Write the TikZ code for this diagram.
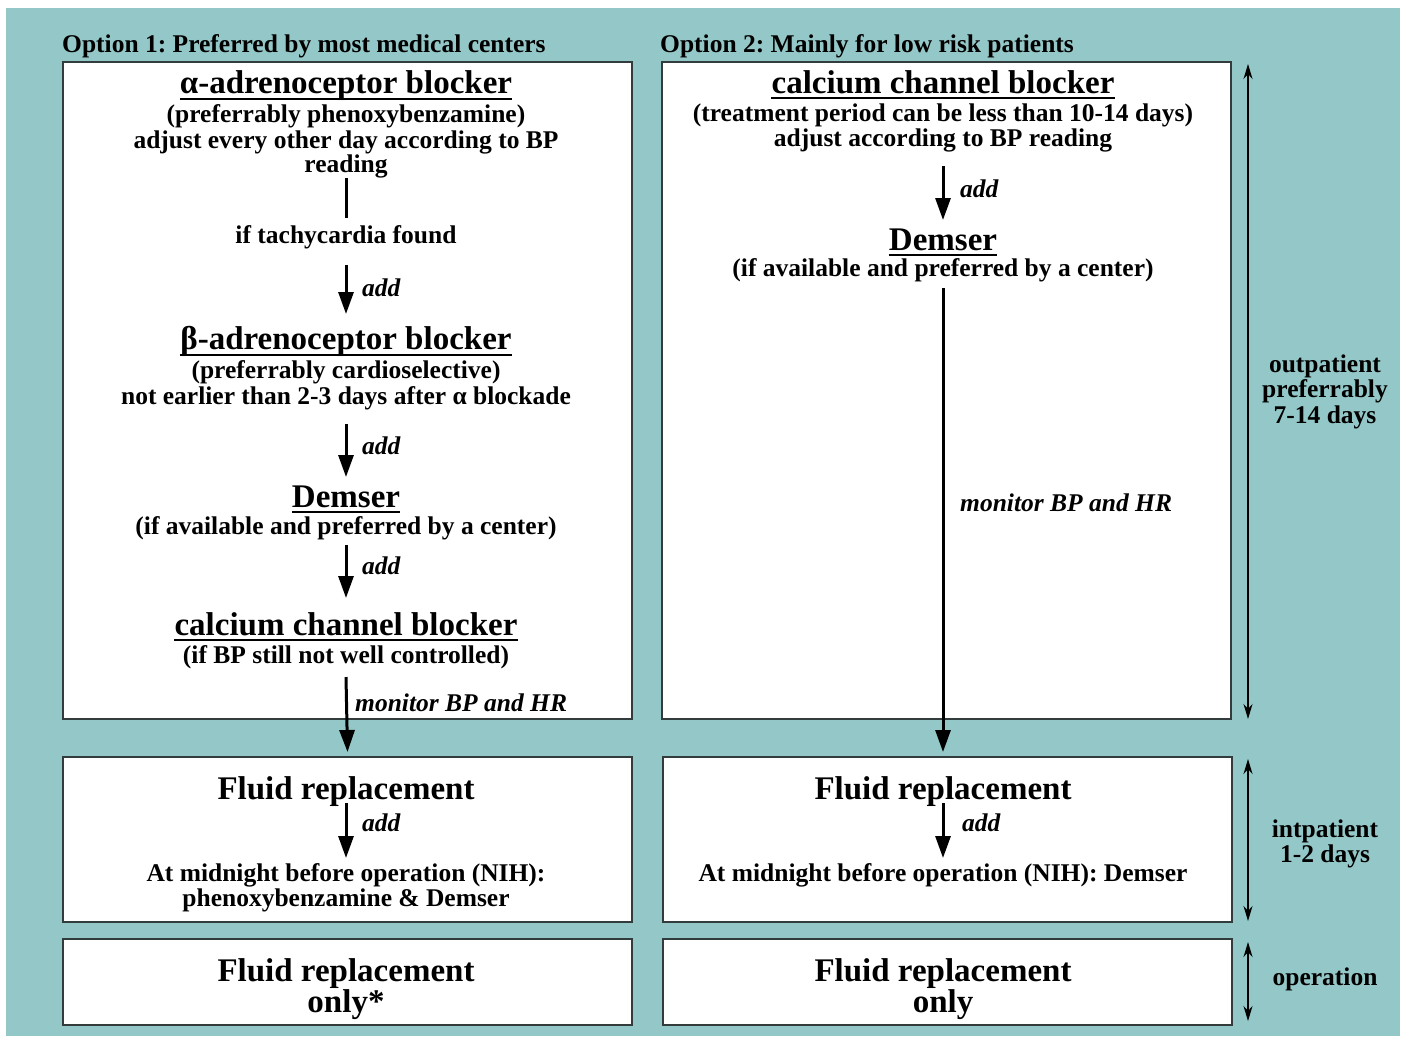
\documentclass[tikz,border=0pt]{standalone}
\usepackage{fontspec}
\setmainfont{Liberation Serif}
\usetikzlibrary{arrows.meta}
\definecolor{tealbg}{RGB}{148,199,199}
\definecolor{boxline}{RGB}{50,60,60}
\frenchspacing
\begin{document}
\begin{tikzpicture}[x=1pt,y=-1pt,
  txt/.style={inner sep=0pt, anchor=base, font=\fontsize{25.5}{28}\selectfont\bfseries\frenchspacing},
  ttl/.style={inner sep=0pt, anchor=base, font=\fontsize{33}{36}\selectfont\bfseries\frenchspacing},
  ttl2/.style={inner sep=0pt, anchor=base, align=center, font=\fontsize{33}{29}\selectfont\bfseries\frenchspacing},
  lbl/.style={inner sep=0pt, anchor=base west, font=\fontsize{25.5}{28}\selectfont\bfseries\itshape\frenchspacing},
  hdr/.style={inner sep=0pt, anchor=base west, font=\fontsize{25.5}{28}\selectfont\bfseries\frenchspacing},
  boxs/.style={draw=boxline, line width=2pt, fill=white, anchor=north west, inner sep=0pt},
  flow/.style={line width=3pt, -{Triangle[width=15pt,length=22pt]}},
  plain/.style={line width=3pt},
  span/.style={line width=1.4pt, {Stealth[width=9pt,length=15pt]}-{Stealth[width=9pt,length=15pt]}},
  uline/.style={line width=1.8pt}]
\useasboundingbox (0,0) rectangle (1407,1036);
\fill[tealbg] (6,8) rectangle (1400,1036);

% headers
\node[hdr] (h1) at (62,52) {Option 1: Preferred by most medical centers};
\node[hdr] (h2) at (660,52) {Option 2: Mainly for low risk patients};

% boxes
\node[boxs, minimum width=569, minimum height=657] (bl1) at (62,61) {};
\node[boxs, minimum width=569, minimum height=657] (br1) at (661,61) {};
\node[boxs, minimum width=569, minimum height=165] (bl2) at (62,756) {};
\node[boxs, minimum width=569, minimum height=165] (br2) at (662,756) {};
\node[boxs, minimum width=569, minimum height=86] (bl3) at (62,938) {};
\node[boxs, minimum width=569, minimum height=86] (br3) at (662,938) {};

% ---------- left column ----------
\node[ttl] (la) at (346,93) {α-adrenoceptor blocker};
\draw[uline] ([yshift=-6pt]la.base west) -- ([yshift=-6pt]la.base east);
\node[txt] (la1) at (346,122) {(preferrably phenoxybenzamine)};
\node[txt] (la2) at (346,148) {adjust every other day according to BP};
\node[txt] (la3) at (346,172) {reading};
\coordinate (lc1) at (346,178);
\coordinate (lc2) at (346,218);
\draw[plain] (lc1) -- (lc2);
\node[txt] (lt) at (346,243) {if tachycardia found};
\coordinate (lc3) at (346,265);
\coordinate (lc4) at (346,314);
\draw[flow] (lc3) -- (lc4);
\node[lbl] (ladd1) at (362,296) {add};

\node[ttl] (lb) at (346,349) {β-adrenoceptor blocker};
\draw[uline] ([yshift=-6pt]lb.base west) -- ([yshift=-6pt]lb.base east);
\node[txt] (lb1) at (346,378) {(preferrably cardioselective)};
\node[txt] (lb2) at (346,404) {not earlier than 2-3 days after α blockade};
\coordinate (lc5) at (346,424);
\coordinate (lc6) at (346,477);
\draw[flow] (lc5) -- (lc6);
\node[lbl] (ladd2) at (362,454) {add};

\node[ttl] (ld) at (346,507) {Demser};
\draw[uline] ([yshift=-5pt]ld.base west) -- ([yshift=-5pt]ld.base east);
\node[txt] (ld1) at (346,534) {(if available and preferred by a center)};
\coordinate (lc7) at (346,545);
\coordinate (lc8) at (346,598);
\draw[flow] (lc7) -- (lc8);
\node[lbl] (ladd3) at (362,574) {add};

\node[ttl] (lcc) at (346,635) {calcium channel blocker};
\draw[uline] ([yshift=-5pt]lcc.base west) -- ([yshift=-5pt]lcc.base east);
\node[txt] (lcc1) at (346,663) {(if BP still not well controlled)};
\coordinate (lc9) at (346,677);
\draw[flow] (lc9) -- ([yshift=4pt]bl2.north);
\node[lbl] (lmon) at (355,711) {monitor BP and HR};

% left box 2
\node[ttl] (lf) at (346,799) {Fluid replacement};
\coordinate (lc10) at (346,803);
\coordinate (lc11) at (346,858);
\draw[flow] (lc10) -- (lc11);
\node[lbl] (ladd4) at (362,831) {add};
\node[txt] (lm1) at (346,881) {At midnight before operation (NIH):};
\node[txt] (lm2) at (346,906) {phenoxybenzamine \& Demser};

% left box 3
\node[ttl2, anchor=north] (lo) at (346,958) {Fluid replacement\\only*};

% ---------- right column ----------
\node[ttl] (ra) at (943,93) {calcium channel blocker};
\draw[uline] ([yshift=-5pt]ra.base west) -- ([yshift=-5pt]ra.base east);
\node[txt] (ra1) at (943,121) {(treatment period can be less than 10-14 days)};
\node[txt] (ra2) at (943,146) {adjust according to BP reading};
\coordinate (rc1) at (943,166);
\coordinate (rc2) at (943,220);
\draw[flow] (rc1) -- (rc2);
\node[lbl] (radd1) at (960,197) {add};

\node[ttl] (rd) at (943,250) {Demser};
\draw[uline] ([yshift=-5pt]rd.base west) -- ([yshift=-5pt]rd.base east);
\node[txt] (rd1) at (943,276) {(if available and preferred by a center)};
\coordinate (rc3) at (943,288);
\draw[flow] (rc3) -- ([yshift=4pt]br2.north -| rc3);
\node[lbl] (rmon) at (960,511) {monitor BP and HR};

% right box 2
\node[ttl] (rf) at (943,799) {Fluid replacement};
\coordinate (rc4) at (943,803);
\coordinate (rc5) at (943,858);
\draw[flow] (rc4) -- (rc5);
\node[lbl] (radd2) at (962,831) {add};
\node[txt] (rm1) at (943,881) {At midnight before operation (NIH): Demser};

% right box 3
\node[ttl2, anchor=north] (ro) at (943,958) {Fluid replacement\\only};

% ---------- time spans ----------
\coordinate (s1a) at (1248,64);
\coordinate (s1b) at (1248,719);
\draw[span] (s1a) -- (s1b);
\coordinate (s2a) at (1248,759);
\coordinate (s2b) at (1248,921);
\draw[span] (s2a) -- (s2b);
\coordinate (s3a) at (1248,942);
\coordinate (s3b) at (1248,1021);
\draw[span] (s3a) -- (s3b);

\node[txt] (o1) at (1325,372) {outpatient};
\node[txt] (o2) at (1325,397) {preferrably};
\node[txt] (o3) at (1325,423) {7-14 days};
\node[txt] (i1) at (1325,837) {intpatient};
\node[txt] (i2) at (1325,862) {1-2 days};
\node[txt] (op) at (1325,985) {operation};
\end{tikzpicture}
\end{document}
